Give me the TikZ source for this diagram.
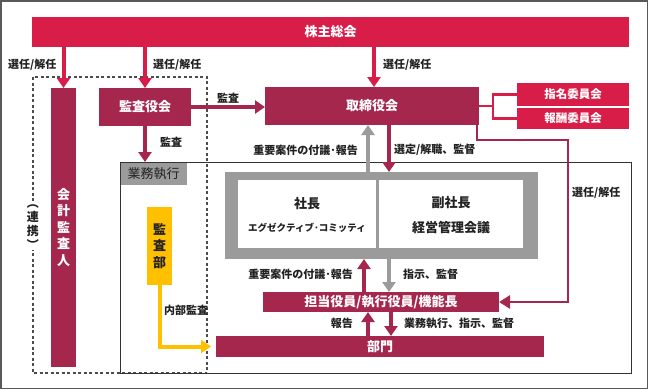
\documentclass[tikz,border=0pt]{standalone}
\usepackage{fontspec}
\setmainfont{Noto Sans CJK JP}
\usetikzlibrary{arrows.meta}
\definecolor{crim}{HTML}{D81E48}
\definecolor{maroon}{HTML}{A5274E}
\definecolor{ylw}{HTML}{FFC000}
\definecolor{gry}{HTML}{9B9B9B}
\definecolor{txt}{HTML}{222222}
\definecolor{frm}{HTML}{333333}
\newcommand\dgboxfont{\bfseries\fontsize{13}{15}\selectfont}
\newcommand\dglblfont{\bfseries\fontsize{11}{12.5}\selectfont}
\newcommand\dgvfont{\bfseries\fontsize{13}{16.5}\selectfont}
\begin{document}
\begin{tikzpicture}[x=1pt,y=-1pt,
  crimbox/.style={fill=crim,text=white,inner sep=0pt,outer sep=0pt,font=\dgboxfont},
  marbox/.style={fill=maroon,text=white,inner sep=0pt,outer sep=0pt,font=\dgboxfont},
  whitebox/.style={fill=white,inner sep=0pt,outer sep=0pt},
  lbl/.style={text=txt,inner sep=0pt,font=\dglblfont},
  arr/.style={line width=4pt,-{Triangle[width=13pt,length=10pt]}},
  conn/.style={line width=2.6pt,draw=maroon,-{Triangle[width=13pt,length=11pt]}},
  brk/.style={line width=2.4pt,draw=crim}]
\useasboundingbox (0,0) rectangle (648,389);
\fill[white] (0,0) rectangle (648,389);
\draw[line width=1.5pt,draw=black!65] (0.75,0.75) rectangle (647.25,388.25);

% dashed audit region
\draw[dashed,dash pattern=on 3pt off 2.5pt,line width=1.2pt,draw=black!70] (33,77) rectangle (207,373);

% business execution frame
\node[fill=gry,inner sep=0pt,outer sep=0pt,minimum width=67pt,minimum height=23pt,anchor=north west,text=txt,font=\fontsize{13}{15}\selectfont] (gyomulbl) at (120,162) {業務執行};
\node[draw=frm,line width=1pt,inner sep=0pt,outer sep=0pt,minimum width=511pt,minimum height=211pt] (gyomu) at (375.5,267.5) {};

% boxes
\node[crimbox,minimum width=597pt,minimum height=30pt] (kabu) at (330.5,32) {株主総会};
\node[marbox,minimum width=92pt,minimum height=38pt] (kansayaku) at (145,107) {監査役会};
\node[marbox,minimum width=214pt,minimum height=38pt] (torishimari) at (372,106) {取締役会};
\node[crimbox,minimum width=112pt,minimum height=22.5pt,font=\bfseries\fontsize{11.5}{13}\selectfont] (shimei) at (573,94.5) {指名委員会};
\node[crimbox,minimum width=112pt,minimum height=21.5pt,font=\bfseries\fontsize{11.5}{13}\selectfont] (hoshu) at (573,118.5) {報酬委員会};
\node[marbox,minimum width=25pt,minimum height=279pt,align=center,font=\dgvfont] (kaikei) at (63.5,227.5) {会\\計\\監\\査\\人};
\node[fill=ylw,text=txt,inner sep=0pt,outer sep=0pt,minimum width=25pt,minimum height=78pt,align=center,font=\dgvfont] (kansabu) at (159.5,246) {監\\査\\部};

\node[fill=gry,inner sep=0pt,outer sep=0pt,minimum width=313pt,minimum height=87pt] (exec) at (381.5,215.5) {};
\node[whitebox,minimum width=138pt,minimum height=68pt] (shacho) at (307,214) {};
\node[whitebox,minimum width=144pt,minimum height=68pt] (fuku) at (451,214) {};
\node[text=txt,inner sep=0pt,font=\dgboxfont] (shachoT) at (307,204) {社長};
\node[text=txt,inner sep=0pt,font=\bfseries\fontsize{9.5}{11}\selectfont] (shachoS) at (307,228) {エグゼクティブ･コミッティ};
\node[text=txt,inner sep=0pt,font=\dgboxfont] (fukuT) at (451,203) {副社長};
\node[text=txt,inner sep=0pt,font=\dgboxfont] (fukuS) at (451,228) {経営管理会議};

\node[marbox,minimum width=236pt,minimum height=20pt] (tanto) at (381,302) {担当役員/執行役員/機能長};
\node[marbox,minimum width=328pt,minimum height=21pt] (bumon) at (380,346.5) {部門};

\node[fill=white,inner sep=1pt,text=txt,align=center,font=\bfseries\fontsize{12}{14}\selectfont] (renkei) at (33,227) {︵\\連\\携\\︶};

% x positions for vertical arrows
\coordinate (xa) at (368,0);
\coordinate (xb) at (389,0);
\coordinate (xc) at (364,0);
\coordinate (xd) at (391,0);
\coordinate (xe) at (374,0);

% arrows from shareholders
\draw[arr,crim] (kaikei.north |- kabu.south) -- (kaikei.north);
\draw[arr,crim] (kansayaku.north |- kabu.south) -- (kansayaku.north);
\draw[arr,crim] (xe |- kabu.south) -- (xe |- torishimari.north);

% audit board
\draw[arr,maroon] (kansayaku.east) -- (kansayaku.east -| torishimari.west);
\draw[arr,maroon] (kansayaku.south) -- (kansayaku.south |- gyomu.north);

% board <-> executives
\draw[arr,gry] (xa |- exec.north) -- (xa |- torishimari.south);
\draw[arr,maroon] (xb |- torishimari.south) -- (xb |- exec.north);

% committees bracket
\coordinate (bk) at (493,106);
\draw[brk] (torishimari.east) -- (bk);
\draw[brk] (shimei.west) -| (bk) |- (hoshu.west);

% board -> officers
\coordinate (rc) at (568,140);
\draw[conn] ([xshift=-2pt]torishimari.south east) |- (rc) |- (tanto.east);

% exec <-> officers
\draw[arr,maroon] (xc |- tanto.north) -- (xc |- exec.south);
\draw[arr,gry] (xb |- exec.south) -- (xb |- tanto.north);

% officers <-> departments
\draw[arr,maroon] (xa |- bumon.north) -- (xa |- tanto.south);
\draw[arr,maroon] (xd |- tanto.south) -- (xd |- bumon.north);

% internal audit
\draw[arr,ylw,shorten >=5pt] (kansabu.south) |- (bumon.west);

% labels
\node[lbl,anchor=west] (l1) at (8,65) {選任/解任};
\node[lbl,anchor=west] (l2) at (153,65) {選任/解任};
\node[lbl,anchor=west] (l3) at (383,65) {選任/解任};
\node[lbl] (l4) at (228,98) {監査};
\node[lbl,anchor=west] (l5) at (160,142) {監査};
\node[lbl,anchor=east] (l6) at (358,150) {重要案件の付議･報告};
\node[lbl,anchor=west] (l7) at (394,150) {選定/解職、監督};
\node[lbl,anchor=west] (l8) at (572,193) {選任/解任};
\node[lbl,anchor=east] (l9) at (353,274) {重要案件の付議･報告};
\node[lbl,anchor=west] (l10) at (403,274) {指示、監督};
\node[lbl,anchor=east] (l11) at (353,323) {報告};
\node[lbl,anchor=west] (l12) at (404,323) {業務執行、指示、監督};
\node[lbl,anchor=west] (l13) at (164,310) {内部監査};
\end{tikzpicture}
\end{document}
